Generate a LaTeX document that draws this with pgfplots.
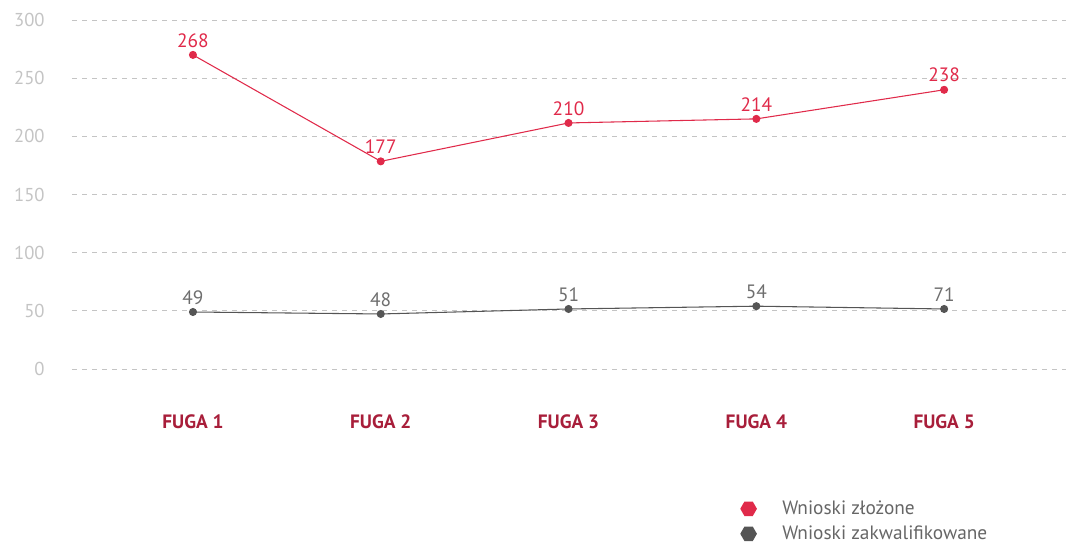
\documentclass[border=0pt]{standalone}
\usepackage{pgfplots}
\pgfplotsset{compat=1.18}
\usepackage{fontspec}
\setmainfont{PT Sans}
\usetikzlibrary{shapes.geometric}
\definecolor{cred}{HTML}{E02A4A}
\definecolor{cgray}{HTML}{555555}
\definecolor{tickg}{HTML}{C4C4C4}
\definecolor{fuga}{HTML}{A81E3A}
\definecolor{leg}{HTML}{666666}
\begin{document}
\begin{tikzpicture}[x=1pt,y=1pt]
\path[use as bounding box] (0,0) rectangle (799.5,409.5);
\begin{axis}[
  at={(54pt,132.75pt)}, anchor=south west,
  scale only axis, width=745.5pt, height=261.75pt,
  xmin=-0.644, xmax=4.649, ymin=0, ymax=300,
  xtick={0,1,2,3,4},
  xticklabels={FUGA 1,FUGA 2,FUGA 3,FUGA 4,FUGA 5},
  xticklabel style={font=\bfseries\fontsize{14.5}{16}\selectfont, color=fuga, yshift=-31pt},
  ytick={0,50,100,150,200,250,300},
  yticklabel style={font=\fontsize{14}{16}\selectfont, color=tickg},
  yticklabel shift=17pt,
  /pgf/number format/assume math mode=true,
  axis line style={draw=none},
  major tick style={draw=none},
  ymajorgrids, grid style={tickg, dashed, line width=0.6pt, dash pattern=on 4pt off 3.5pt},
  clip=false,
  nodes near coords,
  point meta=explicit symbolic,
  nodes near coords style={font=\fontsize{14.5}{16}\selectfont, anchor=south, yshift=2pt},
  legend style={at={(0.668,-0.362)}, anchor=north west, draw=none, fill=none,
    font=\fontsize{14.5}{16}\selectfont, text=leg, row sep=3pt,
    legend cell align=left},
  legend image code/.code={\node[regular polygon, regular polygon sides=6, fill, draw=none, inner sep=0pt, minimum size=12.5pt] at (0.6cm,0) {};},
]
\addplot[cred, line width=0.8pt, mark=*, mark size=2.6pt, nodes near coords style={color=cred}]
 table[meta=lab] {
x y lab
0 270 268
1 178.5 177
2 211.5 210
3 215 214
4 240 238
};
\addlegendentry{\hspace{17pt}Wnioski złożone}
\addplot[cgray, line width=0.8pt, mark=*, mark size=2.6pt, nodes near coords style={color=cgray!85}]
 table[meta=lab] {
x y lab
0 49 49
1 47.3 48
2 51.6 51
3 54 54
4 51.6 71
};
\addlegendentry{\hspace{17pt}Wnioski zakwalifikowane}
\end{axis}
\end{tikzpicture}
\end{document}
